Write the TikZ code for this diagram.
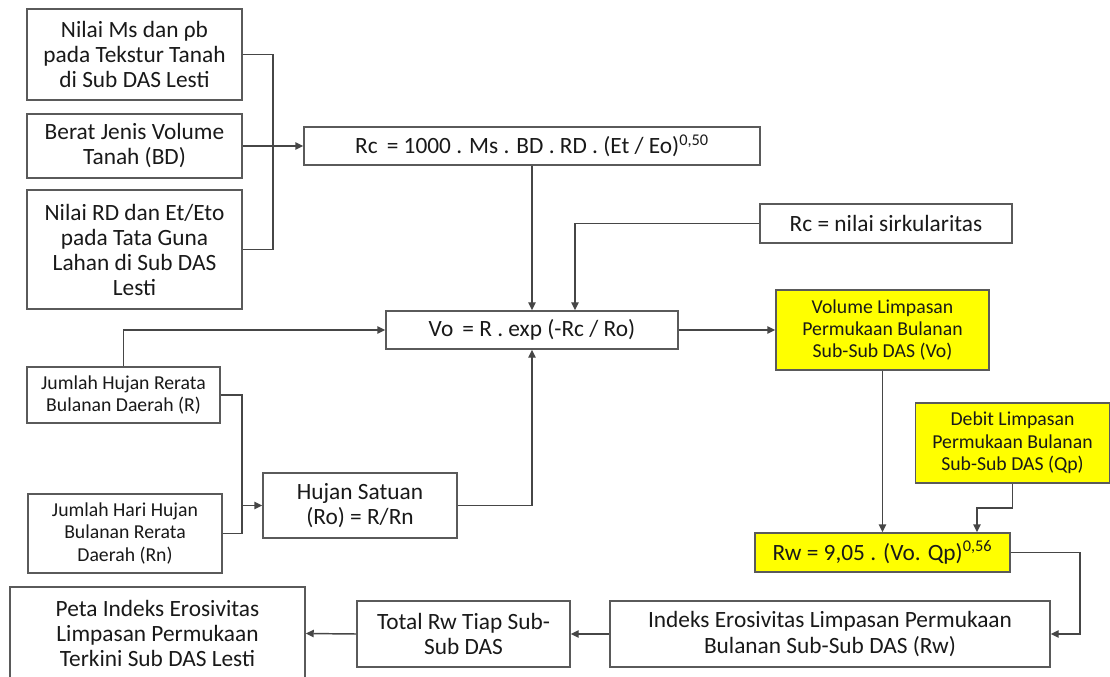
\documentclass[tikz,border=0pt]{standalone}
\usepackage{fontspec}
\setmainfont{Carlito}
\usetikzlibrary{arrows.meta}
\definecolor{ln}{RGB}{70,70,70}
\definecolor{bx}{RGB}{90,90,90}
\definecolor{yel}{RGB}{255,255,0}
\tikzset{
  box/.style={draw=bx, line width=1.1pt, fill=white, align=center, inner sep=0pt, text=black!90},
  ybox/.style={box, fill=yel},
  big/.style={font=\fontsize{17.5}{18.75}\selectfont},
  mid/.style={font=\fontsize{17.5}{19}\selectfont},
  sml/.style={font=\fontsize{14.8}{16.7}\selectfont},
  conn/.style={draw=ln, line width=1.1pt},
  arr/.style={conn, -{Triangle[length=6pt,width=5.5pt]}},
}
\begin{document}
\begin{tikzpicture}[x=0.75pt,y=-0.75pt]
\useasboundingbox (0,0) rectangle (1110,677);
% left inputs
\node[box,big,minimum width=161.25pt,minimum height=68.25pt] (A) at (134.5,54.5) {Nilai Ms dan ρb\\pada Tekstur Tanah\\di Sub DAS Lesti};
\node[box,big,minimum width=161.25pt,minimum height=48pt] (B) at (134.5,146) {Berat Jenis Volume\\Tanah (BD)};
\node[box,big,minimum width=161.25pt,minimum height=89.25pt] (C) at (134.5,249.5) {Nilai RD dan Et/Eto\\pada Tata Guna\\Lahan di Sub DAS\\Lesti};
\node[box,big,minimum width=342pt,minimum height=28.5pt] (Rc) at (532,146) {Rc \,= 1000 . Ms . BD . RD . (Et / Eo)\textsuperscript{0,50}};
\node[box,mid,minimum width=189pt,minimum height=29.25pt] (S) at (886,223.5) {Rc = nilai sirkularitas};
\node[box,mid,minimum width=219pt,minimum height=28.5pt] (Vo) at (532,330) {Vo \,= R . exp (-Rc / Ro)};
\node[ybox,sml,minimum width=159.75pt,minimum height=60pt] (VY) at (882.5,330) {Volume Limpasan\\Permukaan Bulanan\\Sub-Sub DAS (Vo)};
\node[box,sml,minimum width=144.75pt,minimum height=42pt] (R) at (123.5,395) {Jumlah Hujan Rerata\\Bulanan Daerah (R)};
\node[box,sml,minimum width=145.5pt,minimum height=59.25pt] (Rn) at (125,533.5) {Jumlah Hari Hujan\\Bulanan Rerata\\Daerah (Rn)};
\node[box,mid,minimum width=145.5pt,minimum height=48.75pt] (HS) at (360,505.5) {Hujan Satuan\\(Ro) = R/Rn};
\node[ybox,sml,minimum width=145.5pt,minimum height=60pt] (D) at (1012.5,443) {Debit Limpasan\\Permukaan Bulanan\\Sub-Sub DAS (Qp)};
\node[ybox,mid,minimum width=191.25pt,minimum height=29.25pt] (Rw) at (882.5,552.5) {Rw = 9,05 . (Vo. Qp)\textsuperscript{0,56}};
\node[box,mid,minimum width=330pt,minimum height=49.5pt] (I) at (830,634) {Indeks Erosivitas Limpasan Permukaan\\Bulanan Sub-Sub DAS (Rw)};
\node[box,mid,minimum width=159.75pt,minimum height=49.5pt] (T) at (463.5,634) {Total Rw Tiap Sub-\\Sub DAS};
\node[box,mid,minimum width=221.25pt,minimum height=69.75pt] (P) at (157.5,633.5) {Peta Indeks Erosivitas\\Limpasan Permukaan\\Terkini Sub DAS Lesti};
% coordinates
\coordinate (j1) at (273,146);
\coordinate (k) at (575,0);
\coordinate (j2) at (242,505.5);
\coordinate (m) at (977,508);
\coordinate (q) at (1080,634);
% connectors
\draw[conn] (A.east) -| (j1);
\draw[conn] (C.east) -| (j1);
\draw[arr] (B.east) -- (Rc.west);
\draw[arr] (Rc.south) -- (Vo.north);
\draw[arr] (S.west) -| (k |- Vo.north);
\draw[arr] (Vo.east) -- (VY.west);
\draw[arr] (R.north) |- (Vo.west);
\draw[conn] (R.east) -| (j2);
\draw[conn] (Rn.east) -| (j2);
\draw[arr] (j2) -- (HS.west);
\draw[arr] (HS.east) -| (Vo.south);
\draw[arr] (VY.south) -- (Rw.north);
\draw[arr] (D.south) |- (m) -- (m |- Rw.north);
\draw[arr] (Rw.east) -| (q) -- (I.east);
\draw[arr] (I.west) -- (T.east);
\draw[arr] (T.west) -- (P.east);
\end{tikzpicture}
\end{document}
